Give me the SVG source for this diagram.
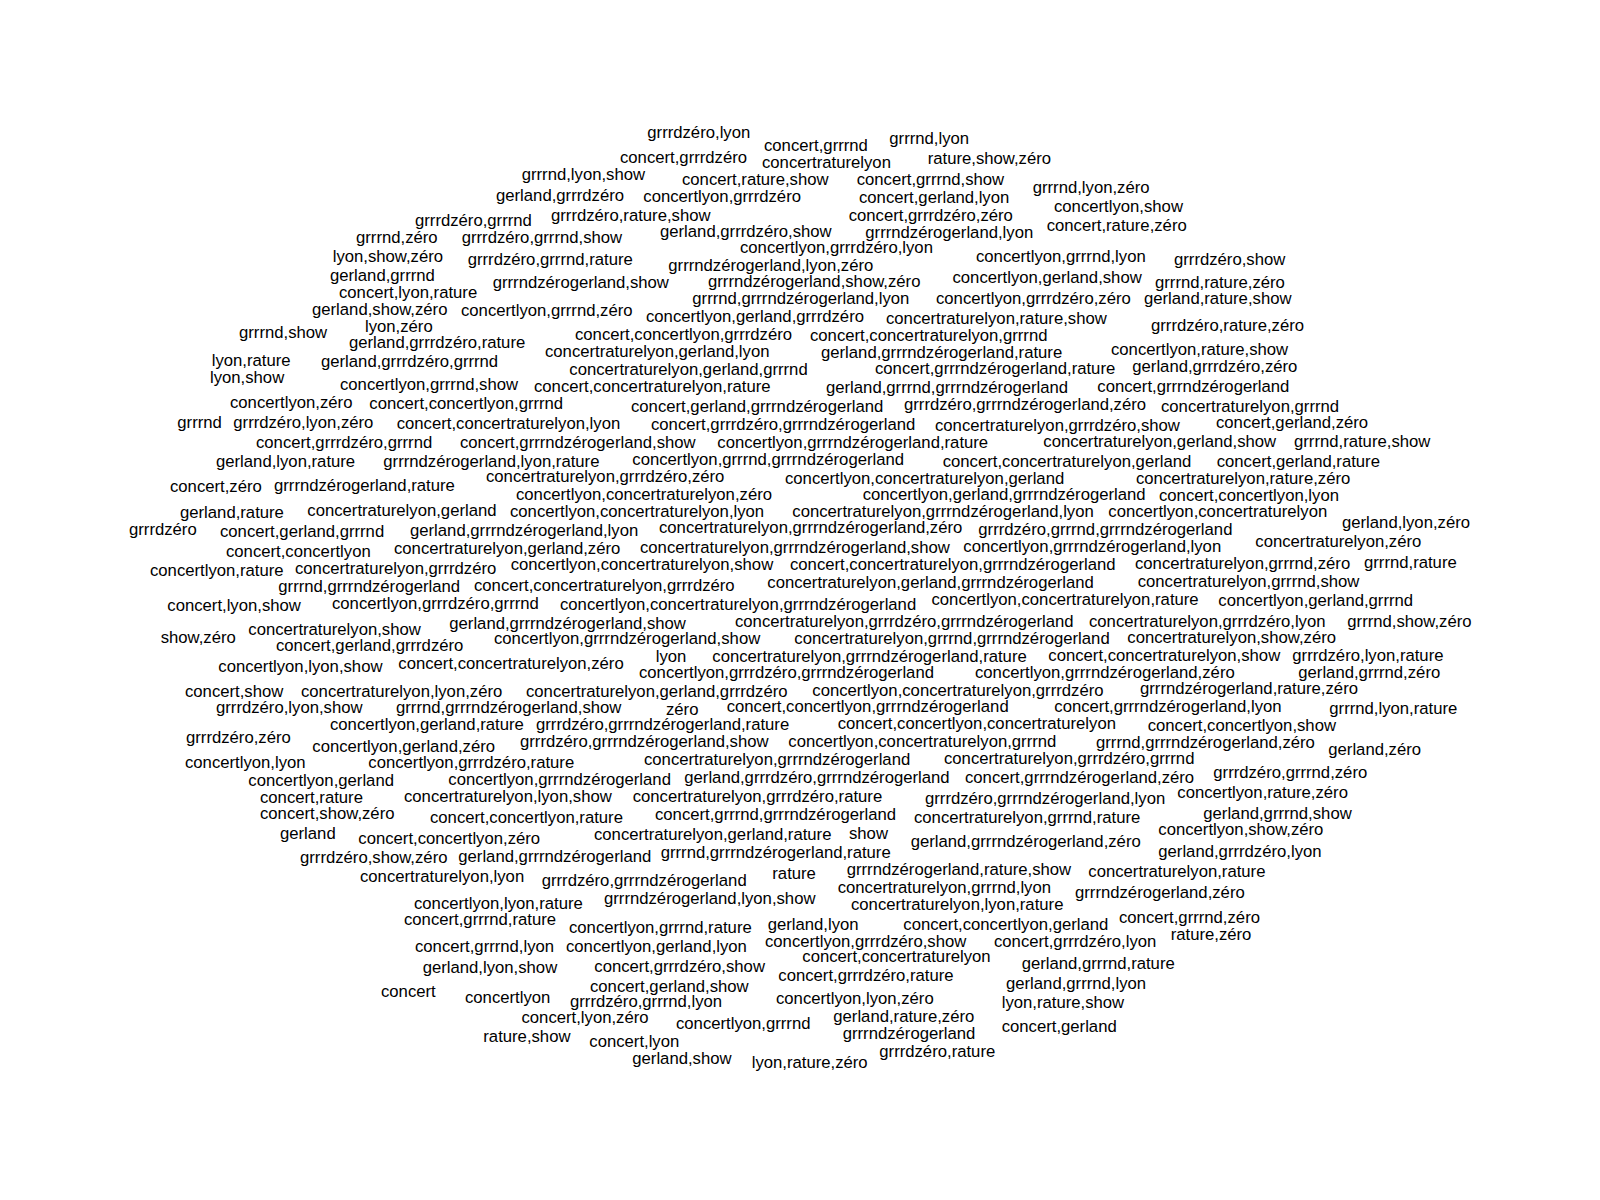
<svg xmlns="http://www.w3.org/2000/svg" width="1600" height="1200" viewBox="0 0 1600 1200">
<style>
.t{font-family:"Liberation Sans",Arial,sans-serif;font-size:16.7px;fill:#000}
</style>
<rect width="1600" height="1200" fill="#fff"/>
<g id="cloud" class="t">
<text x="521.7" y="180">grrrnd,lyon,show</text>
<text x="496" y="200.7">gerland,grrrdzéro</text>
<text x="415" y="225.7">grrrdzéro,grrrnd</text>
<text x="551" y="220.7">grrrdzéro,rature,show</text>
<text x="356" y="242.7">grrrnd,zéro</text>
<text x="461.7" y="242.7">grrrdzéro,grrrnd,show</text>
<text x="332.7" y="261.7">lyon,show,zéro</text>
<text x="467.7" y="265">grrrdzéro,grrrnd,rature</text>
<text x="330" y="280.7">gerland,grrrnd</text>
<text x="492.7" y="288">grrrndzérogerland,show</text>
<text x="339" y="297.7">concert,lyon,rature</text>
<text x="312" y="315">gerland,show,zéro</text>
<text x="461" y="316">concertlyon,grrrnd,zéro</text>
<text x="239" y="337.7">grrrnd,show</text>
<text x="365" y="332.3">lyon,zéro</text>
<text x="349" y="348.3">gerland,grrrdzéro,rature</text>
<text x="575" y="340">concert,concertlyon,grrrdzéro</text>
<text x="211.7" y="365.7">lyon,rature</text>
<text x="321" y="366.7">gerland,grrrdzéro,grrrnd</text>
<text x="545" y="357.3">concertraturelyon,gerland,lyon</text>
<text x="210" y="383.3">lyon,show</text>
<text x="340" y="390">concertlyon,grrrnd,show</text>
<text x="569.3" y="375">concertraturelyon,gerland,grrrnd</text>
<text x="534" y="392">concert,concertraturelyon,rature</text>
<text x="230" y="407.7">concertlyon,zéro</text>
<text x="369.3" y="409.3">concert,concertlyon,grrrnd</text>
<text x="177.3" y="428.3">grrrnd</text>
<text x="233.3" y="428.3">grrrdzéro,lyon,zéro</text>
<text x="396.7" y="429">concert,concertraturelyon,lyon</text>
<text x="647.3" y="138.3">grrrdzéro,lyon</text>
<text x="764" y="150.7">concert,grrrnd</text>
<text x="889.3" y="144.3">grrrnd,lyon</text>
<text x="620" y="162.7">concert,grrrdzéro</text>
<text x="762" y="168.3">concertraturelyon</text>
<text x="927.7" y="164">rature,show,zéro</text>
<text x="682" y="185">concert,rature,show</text>
<text x="856.7" y="185">concert,grrrnd,show</text>
<text x="643.3" y="201.7">concertlyon,grrrdzéro</text>
<text x="859" y="202.7">concert,gerland,lyon</text>
<text x="848.7" y="220.7">concert,grrrdzéro,zéro</text>
<text x="660" y="236.7">gerland,grrrdzéro,show</text>
<text x="865.3" y="237.7">grrrndzérogerland,lyon</text>
<text x="740" y="253.3">concertlyon,grrrdzéro,lyon</text>
<text x="668.3" y="270.7">grrrndzérogerland,lyon,zéro</text>
<text x="708" y="286.7">grrrndzérogerland,show,zéro</text>
<text x="692.3" y="304.3">grrrnd,grrrndzérogerland,lyon</text>
<text x="646" y="321.7">concertlyon,gerland,grrrdzéro</text>
<text x="810" y="340.7">concert,concertraturelyon,grrrnd</text>
<text x="821" y="358.3">gerland,grrrndzérogerland,rature</text>
<text x="875" y="374.3">concert,grrrndzérogerland,rature</text>
<text x="826" y="392.7">gerland,grrrnd,grrrndzérogerland</text>
<text x="631" y="411.7">concert,gerland,grrrndzérogerland</text>
<text x="904" y="410">grrrdzéro,grrrndzérogerland,zéro</text>
<text x="651" y="430">concert,grrrdzéro,grrrndzérogerland</text>
<text x="935" y="430.5">concertraturelyon,grrrdzéro,show</text>
<text x="1032.7" y="192.7">grrrnd,lyon,zéro</text>
<text x="1054" y="211.7">concertlyon,show</text>
<text x="1046.7" y="230.7">concert,rature,zéro</text>
<text x="976" y="261.7">concertlyon,grrrnd,lyon</text>
<text x="1174" y="265">grrrdzéro,show</text>
<text x="952.5" y="283.3">concertlyon,gerland,show</text>
<text x="1155" y="287.7">grrrnd,rature,zéro</text>
<text x="936" y="304.3">concertlyon,grrrdzéro,zéro</text>
<text x="1144" y="304">gerland,rature,show</text>
<text x="886" y="324.3">concertraturelyon,rature,show</text>
<text x="1151" y="330.7">grrrdzéro,rature,zéro</text>
<text x="1111" y="355">concertlyon,rature,show</text>
<text x="1132.3" y="371.7">gerland,grrrdzéro,zéro</text>
<text x="1097.3" y="391.7">concert,grrrndzérogerland</text>
<text x="1161" y="411.7">concertraturelyon,grrrnd</text>
<text x="1216" y="428.3">concert,gerland,zéro</text>
<text x="256" y="448.3">concert,grrrdzéro,grrrnd</text>
<text x="460" y="448.3">concert,grrrndzérogerland,show</text>
<text x="216" y="466.7">gerland,lyon,rature</text>
<text x="383.3" y="466.7">grrrndzérogerland,lyon,rature</text>
<text x="486" y="482.3">concertraturelyon,grrrdzéro,zéro</text>
<text x="170" y="491.7">concert,zéro</text>
<text x="274" y="490.7">grrrndzérogerland,rature</text>
<text x="516" y="500">concertlyon,concertraturelyon,zéro</text>
<text x="180" y="518.3">gerland,rature</text>
<text x="307.3" y="516">concertraturelyon,gerland</text>
<text x="510" y="517">concertlyon,concertraturelyon,lyon</text>
<text x="129" y="535">grrrdzéro</text>
<text x="220" y="537.3">concert,gerland,grrrnd</text>
<text x="410" y="536">gerland,grrrndzérogerland,lyon</text>
<text x="226" y="556.7">concert,concertlyon</text>
<text x="394" y="554">concertraturelyon,gerland,zéro</text>
<text x="150" y="576">concertlyon,rature</text>
<text x="295" y="574.3">concertraturelyon,grrrdzéro</text>
<text x="510.7" y="570">concertlyon,concertraturelyon,show</text>
<text x="278.3" y="591.7">grrrnd,grrrndzérogerland</text>
<text x="474" y="590.5">concert,concertraturelyon,grrrdzéro</text>
<text x="167.3" y="611">concert,lyon,show</text>
<text x="332" y="609.3">concertlyon,grrrdzéro,grrrnd</text>
<text x="560" y="610">concertlyon,concertraturelyon,grrrndzérogerland</text>
<text x="449.3" y="629.3">gerland,grrrndzérogerland,show</text>
<text x="248.3" y="635">concertraturelyon,show</text>
<text x="160.7" y="643.3">show,zéro</text>
<text x="276" y="650.7">concert,gerland,grrrdzéro</text>
<text x="494" y="644.2">concertlyon,grrrndzérogerland,show</text>
<text x="218.3" y="671.7">concertlyon,lyon,show</text>
<text x="398.3" y="669">concert,concertraturelyon,zéro</text>
<text x="185" y="696.7">concert,show</text>
<text x="301" y="696.7">concertraturelyon,lyon,zéro</text>
<text x="526" y="696.5">concertraturelyon,gerland,grrrdzéro</text>
<text x="216" y="712.7">grrrdzéro,lyon,show</text>
<text x="396" y="712.7">grrrnd,grrrndzérogerland,show</text>
<text x="330" y="730">concertlyon,gerland,rature</text>
<text x="536" y="730">grrrdzéro,grrrndzérogerland,rature</text>
<text x="717.3" y="448.3">concertlyon,grrrndzérogerland,rature</text>
<text x="632.3" y="465">concertlyon,grrrnd,grrrndzérogerland</text>
<text x="942.7" y="466.7">concert,concertraturelyon,gerland</text>
<text x="785" y="484">concertlyon,concertraturelyon,gerland</text>
<text x="862.7" y="500">concertlyon,gerland,grrrndzérogerland</text>
<text x="792.3" y="516.7">concertraturelyon,grrrndzérogerland,lyon</text>
<text x="659" y="533.3">concertraturelyon,grrrndzérogerland,zéro</text>
<text x="978.3" y="535">grrrdzéro,grrrnd,grrrndzérogerland</text>
<text x="640" y="552.7">concertraturelyon,grrrndzérogerland,show</text>
<text x="963.3" y="551.7">concertlyon,grrrndzérogerland,lyon</text>
<text x="790" y="570">concert,concertraturelyon,grrrndzérogerland</text>
<text x="767.3" y="587.7">concertraturelyon,gerland,grrrndzérogerland</text>
<text x="931.5" y="604.5">concertlyon,concertraturelyon,rature</text>
<text x="735" y="627.3">concertraturelyon,grrrdzéro,grrrndzérogerland</text>
<text x="794.3" y="644">concertraturelyon,grrrnd,grrrndzérogerland</text>
<text x="655.7" y="661.7">lyon</text>
<text x="712.3" y="661.7">concertraturelyon,grrrndzérogerland,rature</text>
<text x="639" y="678.3">concertlyon,grrrdzéro,grrrndzérogerland</text>
<text x="975" y="678">concertlyon,grrrndzérogerland,zéro</text>
<text x="812.3" y="696">concertlyon,concertraturelyon,grrrdzéro</text>
<text x="666" y="715">zéro</text>
<text x="726.7" y="711.7">concert,concertlyon,grrrndzérogerland</text>
<text x="837.7" y="729.3">concert,concertlyon,concertraturelyon</text>
<text x="520" y="746.7">grrrdzéro,grrrndzérogerland,show</text>
<text x="788.3" y="746.7">concertlyon,concertraturelyon,grrrnd</text>
<text x="1043.3" y="447.3">concertraturelyon,gerland,show</text>
<text x="1294" y="447.3">grrrnd,rature,show</text>
<text x="1216.7" y="467.3">concert,gerland,rature</text>
<text x="1136" y="484">concertraturelyon,rature,zéro</text>
<text x="1159" y="500.7">concert,concertlyon,lyon</text>
<text x="1108.3" y="517.3">concertlyon,concertraturelyon</text>
<text x="1342" y="527.7">gerland,lyon,zéro</text>
<text x="1255.3" y="546.7">concertraturelyon,zéro</text>
<text x="1135" y="569.3">concertraturelyon,grrrnd,zéro</text>
<text x="1364" y="568.3">grrrnd,rature</text>
<text x="1137.7" y="586.7">concertraturelyon,grrrnd,show</text>
<text x="1218.3" y="605.7">concertlyon,gerland,grrrnd</text>
<text x="1089" y="626.7">concertraturelyon,grrrdzéro,lyon</text>
<text x="1347.3" y="627.3">grrrnd,show,zéro</text>
<text x="1127.3" y="643.3">concertraturelyon,show,zéro</text>
<text x="1048.3" y="660.7">concert,concertraturelyon,show</text>
<text x="1292.3" y="660.7">grrrdzéro,lyon,rature</text>
<text x="1298.3" y="678.3">gerland,grrrnd,zéro</text>
<text x="1140" y="694">grrrndzérogerland,rature,zéro</text>
<text x="1054.3" y="711.7">concert,grrrndzérogerland,lyon</text>
<text x="1329.3" y="714">grrrnd,lyon,rature</text>
<text x="1147.7" y="730.7">concert,concertlyon,show</text>
<text x="186" y="742.7">grrrdzéro,zéro</text>
<text x="312.3" y="751.7">concertlyon,gerland,zéro</text>
<text x="185" y="767.7">concertlyon,lyon</text>
<text x="368.3" y="767.7">concertlyon,grrrdzéro,rature</text>
<text x="248.3" y="785.7">concertlyon,gerland</text>
<text x="448.3" y="785">concertlyon,grrrndzérogerland</text>
<text x="260" y="802.7">concert,rature</text>
<text x="404" y="801.7">concertraturelyon,lyon,show</text>
<text x="260" y="819.3">concert,show,zéro</text>
<text x="430" y="822.7">concert,concertlyon,rature</text>
<text x="280" y="839.3">gerland</text>
<text x="358.3" y="844.3">concert,concertlyon,zéro</text>
<text x="300" y="863.3">grrrdzéro,show,zéro</text>
<text x="458.3" y="861.7">gerland,grrrndzérogerland</text>
<text x="360" y="881.7">concertraturelyon,lyon</text>
<text x="541.7" y="885.5">grrrdzéro,grrrndzérogerland</text>
<text x="414" y="909.3">concertlyon,lyon,rature</text>
<text x="404" y="925">concert,grrrnd,rature</text>
<text x="569" y="933.3">concertlyon,grrrnd,rature</text>
<text x="415" y="952.3">concert,grrrnd,lyon</text>
<text x="566" y="951.7">concertlyon,gerland,lyon</text>
<text x="422.7" y="973.3">gerland,lyon,show</text>
<text x="381" y="996.7">concert</text>
<text x="465" y="1003.3">concertlyon</text>
<text x="570" y="1007.3">grrrdzéro,grrrnd,lyon</text>
<text x="521.5" y="1023.3">concert,lyon,zéro</text>
<text x="483.3" y="1042.3">rature,show</text>
<text x="644" y="765">concertraturelyon,grrrndzérogerland</text>
<text x="944" y="764.3">concertraturelyon,grrrdzéro,grrrnd</text>
<text x="684.3" y="783.3">gerland,grrrdzéro,grrrndzérogerland</text>
<text x="965" y="782.7">concert,grrrndzérogerland,zéro</text>
<text x="632.7" y="802.3">concertraturelyon,grrrdzéro,rature</text>
<text x="925" y="804">grrrdzéro,grrrndzérogerland,lyon</text>
<text x="655" y="820">concert,grrrnd,grrrndzérogerland</text>
<text x="914" y="822.7">concertraturelyon,grrrnd,rature</text>
<text x="594" y="840">concertraturelyon,gerland,rature</text>
<text x="849" y="839.3">show</text>
<text x="910.7" y="847">gerland,grrrndzérogerland,zéro</text>
<text x="660.7" y="858.3">grrrnd,grrrndzérogerland,rature</text>
<text x="772.3" y="879.3">rature</text>
<text x="846.7" y="875">grrrndzérogerland,rature,show</text>
<text x="837.7" y="892.7">concertraturelyon,grrrnd,lyon</text>
<text x="604" y="904.3">grrrndzérogerland,lyon,show</text>
<text x="851" y="909.5">concertraturelyon,lyon,rature</text>
<text x="767.7" y="930">gerland,lyon</text>
<text x="903.3" y="930">concert,concertlyon,gerland</text>
<text x="765" y="946.7">concertlyon,grrrdzéro,show</text>
<text x="994" y="946.7">concert,grrrdzéro,lyon</text>
<text x="802.3" y="962.3">concert,concertraturelyon</text>
<text x="594.3" y="972.3">concert,grrrdzéro,show</text>
<text x="778.3" y="980.7">concert,grrrdzéro,rature</text>
<text x="590" y="991.7">concert,gerland,show</text>
<text x="776" y="1004">concertlyon,lyon,zéro</text>
<text x="676" y="1029">concertlyon,grrrnd</text>
<text x="833.3" y="1021.7">gerland,rature,zéro</text>
<text x="589.3" y="1046.7">concert,lyon</text>
<text x="842.7" y="1039.3">grrrndzérogerland</text>
<text x="632.3" y="1064.3">gerland,show</text>
<text x="751.7" y="1068.3">lyon,rature,zéro</text>
<text x="879.3" y="1057.3">grrrdzéro,rature</text>
<text x="1096" y="748.3">grrrnd,grrrndzérogerland,zéro</text>
<text x="1328.3" y="755">gerland,zéro</text>
<text x="1213.3" y="777.7">grrrdzéro,grrrnd,zéro</text>
<text x="1177.3" y="798.3">concertlyon,rature,zéro</text>
<text x="1203.3" y="819.3">gerland,grrrnd,show</text>
<text x="1158.3" y="835">concertlyon,show,zéro</text>
<text x="1158.3" y="857.3">gerland,grrrdzéro,lyon</text>
<text x="1088.3" y="876.7">concertraturelyon,rature</text>
<text x="1075" y="898.3">grrrndzérogerland,zéro</text>
<text x="1119" y="923.3">concert,grrrnd,zéro</text>
<text x="1170.7" y="940">rature,zéro</text>
<text x="1021.7" y="969">gerland,grrrnd,rature</text>
<text x="1006" y="988.5">gerland,grrrnd,lyon</text>
<text x="1001.7" y="1008.3">lyon,rature,show</text>
<text x="1001.7" y="1031.7">concert,gerland</text>
</g>
</svg>
